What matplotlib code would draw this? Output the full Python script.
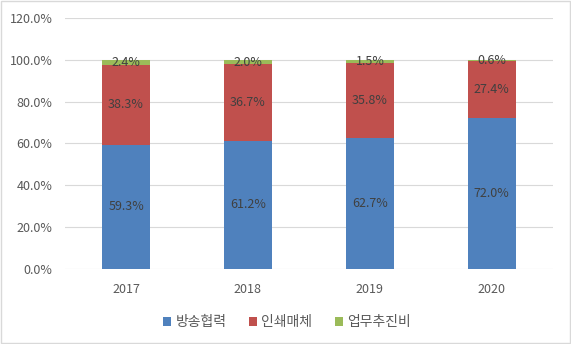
import numpy as np
import matplotlib.pyplot as plt
from matplotlib.patches import Rectangle

plt.rcParams['font.family'] = ['Noto Sans CJK KR', 'DejaVu Sans']

# 연도별 예산 비중 (%)
years = ['2017', '2018', '2019', '2020']
broadcast = [59.3, 61.2, 62.7, 72.0]
print_media = [38.3, 36.7, 35.8, 27.4]
operations = [2.4, 2.0, 1.5, 0.6]
series_names = ['방송협력', '인쇄매체', '업무추진비']
colors = ['#4F81BD', '#C0504D', '#9BBB59']

fig = plt.figure(figsize=(5.71, 3.44), dpi=100)
ax = fig.add_axes([0.114, 0.218, 0.854, 0.730])

x = np.arange(len(years))
width = 0.39
bottom = np.zeros(len(years))
for vals, name, c in zip([broadcast, print_media, operations], series_names, colors):
    vals = np.array(vals)
    ax.bar(x, vals, width, bottom=bottom, color=c, label=name, zorder=2)
    for xi, b, v in zip(x, bottom, vals):
        ax.text(xi, b + v / 2, f'{v:.1f}%', ha='center', va='center',
                fontsize=9, color='#404040', zorder=3)
    bottom += vals

ax.set_xlim(-0.5, len(years) - 0.5)
ax.set_ylim(0, 120)
ax.set_yticks(np.arange(0, 121, 20))
ax.set_yticklabels([f'{v:.1f}%' for v in np.arange(0, 121, 20)])
ax.set_xticks(x)
ax.set_xticklabels(years)
ax.tick_params(length=0, labelsize=9, labelcolor='#595959')
ax.tick_params(axis='y', pad=9)
ax.tick_params(axis='x', pad=10)
ax.grid(axis='y', color='#D9D9D9', linewidth=0.8, zorder=0)
for s in ax.spines.values():
    s.set_visible(False)

ax.legend(loc='upper center', bbox_to_anchor=(0.455, -0.135), ncol=3, frameon=False,
          fontsize=10, handlelength=0.6, handleheight=0.6, handletextpad=0.3,
          columnspacing=1.6, labelcolor='#595959')

fig.patches.append(Rectangle((0.002, 0.003), 0.996, 0.994, transform=fig.transFigure,
                             fill=False, edgecolor='#D9D9D9', linewidth=1))

plt.savefig('out.png', dpi=100)
